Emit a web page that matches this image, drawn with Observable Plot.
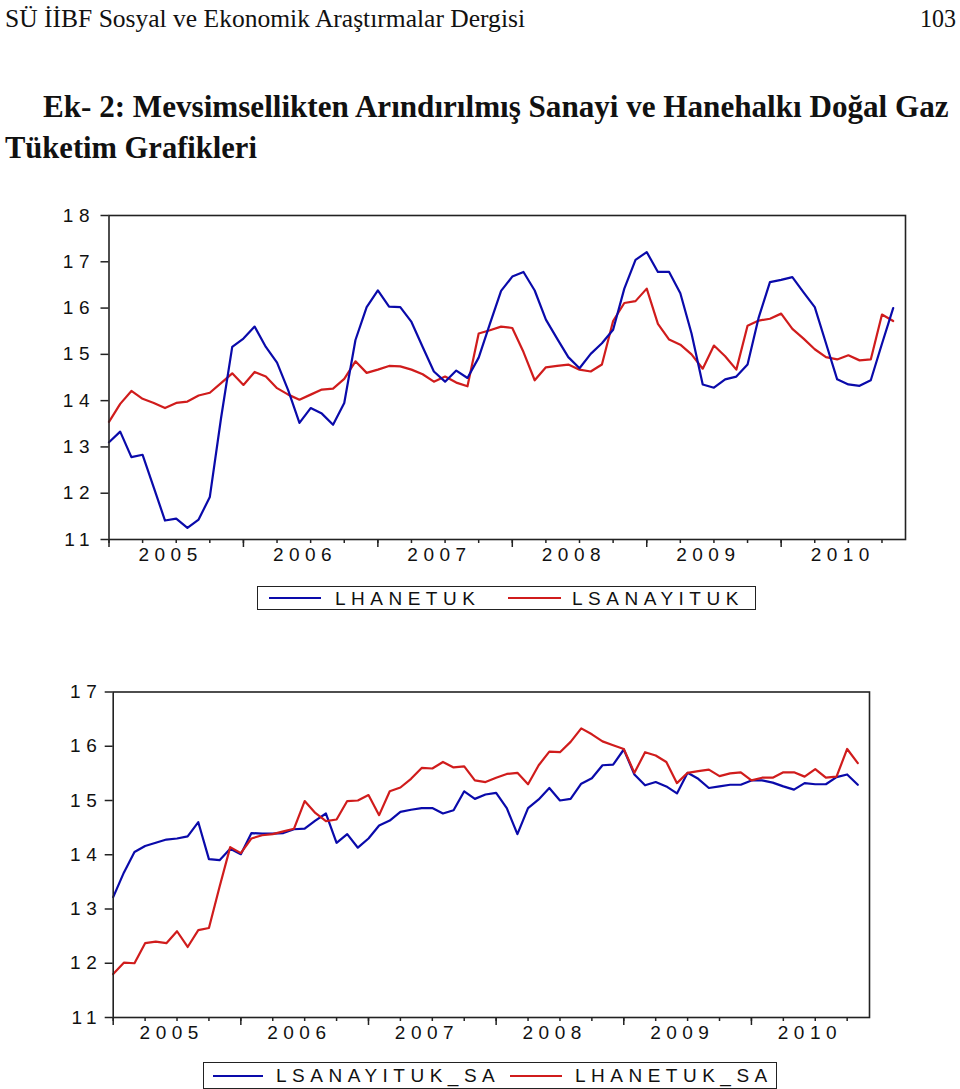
<!DOCTYPE html>
<html><head><meta charset="utf-8">
<script src="https://cdn.jsdelivr.net/npm/d3@7"></script>
<script src="https://cdn.jsdelivr.net/npm/@observablehq/plot@0.6"></script>
<style>
body{margin:0;background:#fff;}
#page{position:relative;width:960px;height:1089px;overflow:hidden;background:#fff;}
.abs{position:absolute;}
.legend{position:absolute;border:1.5px solid #222;box-sizing:border-box;font-family:"Liberation Sans",Arial,sans-serif;font-size:19px;letter-spacing:5.5px;color:#111;}
.legend .sw{position:absolute;height:0;border-top:2px solid;}
.legend .lb{position:absolute;white-space:nowrap;line-height:19px;}
</style></head><body><div id="page">
<svg class="abs" style="left:0;top:0" width="960" height="180" font-family="'Liberation Serif','Times New Roman',serif" fill="#111">
<text x="5" y="27" font-size="25" textLength="520" lengthAdjust="spacingAndGlyphs">SÜ İİBF Sosyal ve Ekonomik Araştırmalar Dergisi</text>
<text x="920" y="27" font-size="25" textLength="36" lengthAdjust="spacingAndGlyphs">103</text>
<g id="t1" transform="translate(43,117)"><text x="0" y="0" font-size="32" font-weight="bold">Ek- 2: Mevsimsellikten Arındırılmış Sanayi ve Hanehalkı Doğal Gaz</text></g>
<g id="t2" transform="translate(5,158)"><text x="0" y="0" font-size="32" font-weight="bold">Tüketim Grafikleri</text></g>
</svg>
<div id="chart1" class="abs" style="left:0;top:200px"></div>
<div class="legend" style="left:257px;top:586px;width:499px;height:24px">
  <div class="sw" style="left:11px;top:10px;width:52px;border-color:#0a0aaa"></div>
  <div class="lb" style="left:77px;top:2px">LHANETUK</div>
  <div class="sw" style="left:250px;top:10px;width:53px;border-color:#d01c1c"></div>
  <div class="lb" style="left:314px;top:2px">LSANAYITUK</div>
</div>
<div id="chart2" class="abs" style="left:0;top:680px"></div>
<div class="legend" style="left:203px;top:1062px;width:574px;height:27px">
  <div class="sw" style="left:9px;top:12px;width:50px;border-color:#0a0aaa"></div>
  <div class="lb" style="left:72px;top:3px">LSANAYITUK_SA</div>
  <div class="sw" style="left:306px;top:12px;width:52px;border-color:#d01c1c"></div>
  <div class="lb" style="left:371px;top:3px">LHANETUK_SA</div>
</div>
</div>
<script>
// Monthly observations, Jan 2005 – Nov 2010
const years = ["2005","2006","2007","2008","2009","2010"];
const yTicks1 = [11,12,13,14,15,16,17,18];
const yTicks2 = [11,12,13,14,15,16,17];

const lhanetuk = [13.10,13.33,12.78,12.83,12.12,11.41,11.45,11.25,11.43,11.92,13.62,15.16,15.34,15.60,15.16,14.82,14.22,13.52,13.84,13.72,13.48,13.95,15.31,16.02,16.38,16.03,16.02,15.70,15.16,14.63,14.41,14.65,14.49,14.93,15.66,16.37,16.68,16.78,16.38,15.75,15.34,14.94,14.70,15.01,15.24,15.53,16.42,17.04,17.21,16.78,16.78,16.32,15.45,14.35,14.28,14.46,14.52,14.78,15.80,16.56,16.61,16.67,16.34,16.02,15.24,14.46,14.35,14.32,14.44,15.23,16.00];
const lsanayituk = [13.54,13.93,14.21,14.04,13.95,13.84,13.95,13.98,14.11,14.17,14.38,14.59,14.34,14.62,14.52,14.27,14.13,14.02,14.13,14.24,14.26,14.47,14.85,14.60,14.67,14.75,14.74,14.67,14.57,14.41,14.52,14.39,14.31,15.45,15.52,15.60,15.57,15.05,14.44,14.72,14.75,14.78,14.67,14.63,14.78,15.72,16.11,16.15,16.42,15.66,15.32,15.21,15.00,14.69,15.19,14.96,14.67,15.62,15.73,15.77,15.88,15.55,15.34,15.11,14.94,14.89,14.98,14.87,14.89,15.86,15.72];
const lsanayitukSA = [13.22,13.67,14.05,14.16,14.22,14.28,14.30,14.34,14.60,13.92,13.90,14.11,14.01,14.40,14.39,14.39,14.40,14.47,14.48,14.63,14.76,14.22,14.38,14.13,14.30,14.54,14.63,14.79,14.83,14.86,14.86,14.76,14.82,15.17,15.03,15.11,15.14,14.86,14.38,14.86,15.02,15.23,15.00,15.03,15.31,15.41,15.65,15.66,15.94,15.48,15.28,15.34,15.26,15.13,15.51,15.40,15.23,15.26,15.29,15.29,15.37,15.37,15.33,15.26,15.20,15.32,15.30,15.30,15.43,15.48,15.29];
const lhanetukSA = [11.80,12.01,12.00,12.37,12.40,12.37,12.59,12.30,12.61,12.65,13.41,14.14,14.03,14.30,14.36,14.38,14.43,14.48,14.99,14.77,14.62,14.65,14.99,15.00,15.10,14.73,15.17,15.24,15.40,15.60,15.59,15.71,15.61,15.63,15.37,15.34,15.42,15.49,15.51,15.30,15.65,15.90,15.89,16.08,16.33,16.22,16.09,16.02,15.95,15.51,15.89,15.83,15.71,15.32,15.51,15.54,15.57,15.45,15.50,15.52,15.37,15.42,15.42,15.52,15.52,15.44,15.58,15.42,15.44,15.95,15.69];

const BLUE = "#0a0aaa", RED = "#d01c1c";
const yearStarts = years.map((y, k) => k * 12);
const quarters = d3.range(0, 71, 3);
const yearMids = years.map((y, k) => k * 12 + 5.5);

// fit the condensed title lines to the reference widths
[["t1", 43, 117, 906], ["t2", 5, 158, 252]].forEach(([id, x, y, w]) => {
  const g = document.getElementById(id);
  const len = g.querySelector("text").getComputedTextLength();
  g.setAttribute("transform", `translate(${x},${y}) scale(${w / len},1)`);
});

function makeChart(el, {series, yDomain, yTicks, height, marginTop, marginBottom, marginLeft, marginRight, yPad, xPad}) {
  const svg = Plot.plot({
    width: 960, height, marginTop, marginBottom, marginLeft, marginRight,
    x: {domain: [0, 71.1], axis: null},
    y: {domain: yDomain, axis: null},
    style: {fontFamily: "'Liberation Sans', Arial, sans-serif", fontSize: "19px", color: "#111", background: "transparent", overflow: "visible"},
    marks: [
      Plot.axisY(yTicks, {tickSize: 8, tickPadding: yPad, label: null, stroke: "#222", strokeWidth: 1.5, fontSize: 19, tickFormat: d => String(d)}),
      Plot.axisX(quarters, {tickSize: 4, tickFormat: () => "", label: null, stroke: "#222", strokeWidth: 1.5}),
      Plot.axisX(yearStarts, {tickSize: 8, tickFormat: () => "", label: null, stroke: "#222", strokeWidth: 1.5}),
      Plot.axisX(yearMids, {tickSize: 0, tickPadding: xPad, label: null, fontSize: 19, tickFormat: d => years[yearMids.indexOf(d)]}),
      ...series.map(s => Plot.lineY(s.values, {x: (d, i) => i, y: d => d, stroke: s.color, strokeWidth: 2.2})),
      Plot.frame({stroke: "#222", strokeWidth: 1.6})
    ]
  });
  d3.select(svg).selectAll("text").style("letter-spacing", "5.5px");
  document.getElementById(el).appendChild(svg);
}

makeChart("chart1", {
  series: [{values: lsanayituk, color: RED}, {values: lhanetuk, color: BLUE}],
  yDomain: [11, 18], yTicks: yTicks1, height: 370, marginTop: 15, marginBottom: 31, marginLeft: 108.5, marginRight: 55, yPad: 6, xPad: 8
});
makeChart("chart2", {
  series: [{values: lsanayitukSA, color: BLUE}, {values: lhanetukSA, color: RED}],
  yDomain: [11, 17], yTicks: yTicks2, height: 370, marginTop: 11.5, marginBottom: 33, marginLeft: 112.7, marginRight: 91, yPad: 3, xPad: 8
});
</script>
</body></html>
